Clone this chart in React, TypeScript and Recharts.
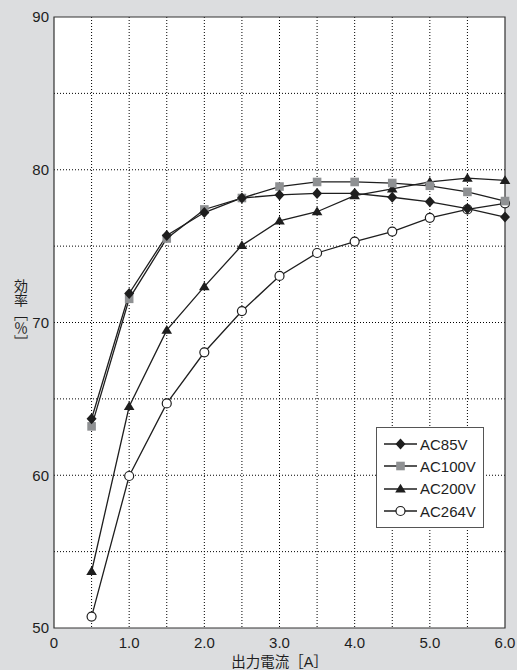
import React from 'react';
import {
    LineChart,
    Line,
    XAxis,
    YAxis,
    CartesianGrid,
    ReferenceArea,
    Legend
} from 'recharts';

const current = [0.5, 1.0, 1.5, 2.0, 2.5, 3.0, 3.5, 4.0, 4.5, 5.0, 5.5, 6.0];
const ac85 = [63.7, 71.9, 75.7, 77.2, 78.15, 78.35, 78.45, 78.45, 78.2, 77.9, 77.45, 76.9];
const ac100 = [63.2, 71.55, 75.5, 77.4, 78.15, 78.9, 79.2, 79.2, 79.13, 78.95, 78.55, 77.95];
const ac200 = [53.7, 64.5, 69.5, 72.35, 75.05, 76.65, 77.25, 78.3, 78.75, 79.2, 79.45, 79.3];
const ac264 = [50.75, 59.95, 64.7, 68.05, 70.75, 73.05, 74.55, 75.3, 75.95, 76.85, 77.4, 77.8];

const xTicks = [0, 1, 2, 3, 4, 5, 6];
const yTicks = [50, 60, 70, 80, 90];
const xGrid = [0.5, 1, 1.5, 2, 2.5, 3, 3.5, 4, 4.5, 5, 5.5];
const yGrid = [55, 60, 65, 70, 75, 80, 85];

const data = current.map((x, i) => ({
    x,
    ac85: ac85[i],
    ac100: ac100[i],
    ac200: ac200[i],
    ac264: ac264[i]
}));

const FONT = "'Liberation Sans', Arial, 'Noto Sans CJK JP', sans-serif";
const INK = '#1e1e1e';
const GRAY_MARK = '#8f9193';

// marker shapes, shared by the lines and the legend
const Marker = ({ shape, cx, cy }: { shape: string; cx: number; cy: number }) => {
    if (shape === 'diamond') {
        return <path d={`M${cx},${cy - 5.5}L${cx + 5},${cy}L${cx},${cy + 5.5}L${cx - 5},${cy}Z`} fill={INK} />;
    }
    if (shape === 'square') {
        return <rect x={cx - 4.3} y={cy - 4.3} width={8.6} height={8.6} fill={GRAY_MARK} />;
    }
    if (shape === 'triangle') {
        return <path d={`M${cx},${cy - 5.2}L${cx + 5.3},${cy + 3.6}L${cx - 5.3},${cy + 3.6}Z`} fill={INK} />;
    }
    return <circle cx={cx} cy={cy} r={4.5} fill="#fff" stroke={INK} strokeWidth={1.2} />;
};

const series = [
    { key: 'ac264', name: 'AC264V', shape: 'circle' },
    { key: 'ac200', name: 'AC200V', shape: 'triangle' },
    { key: 'ac100', name: 'AC100V', shape: 'square' },
    { key: 'ac85', name: 'AC85V', shape: 'diamond' }
];

const legendOrder = ['AC85V', 'AC100V', 'AC200V', 'AC264V'];

const LegendBox = () => (
    <div
        style={{
            background: '#fff',
            border: '1px solid #555',
            padding: '5px 7px 5px 7px',
            fontFamily: FONT,
            fontSize: 15,
            color: INK
        }}
    >
        {legendOrder.map((name) => {
            const s = series.find((d) => d.name === name)!;
            return (
                <div key={name} style={{ display: 'flex', alignItems: 'center', height: 22.3 }}>
                    <svg width={33} height={14} style={{ marginRight: 3 }}>
                        <line x1={0} y1={7} x2={33} y2={7} stroke={INK} strokeWidth={1.3} />
                        <Marker shape={s.shape} cx={16.5} cy={7} />
                    </svg>
                    <span>{name}</span>
                </div>
            );
        })}
    </div>
);

const YLabel = ({ viewBox }: any) => {
    const x = (viewBox?.x ?? 0) + 20;
    const y = (viewBox?.y ?? 0) + (viewBox?.height ?? 0) / 2 - 9;
    return (
        <text
            x={x}
            y={y}
            textAnchor="middle"
            fill={INK}
            fontSize={14}
            fontFamily={FONT}
            style={{ writingMode: 'vertical-rl' } as any}
        >
            効率［％］
        </text>
    );
};

const App = () => {
    return (
        <div style={{ position: 'absolute', top: 0, left: 0, width: 517, height: 670, background: '#dcdddf' }}>
            <LineChart
                width={517}
                height={670}
                data={data}
                margin={{ top: 17, right: 12, left: 0, bottom: 0 }}
                style={{ fontFamily: FONT }}
            >
                <CartesianGrid
                    fill="#fff"
                    fillOpacity={1}
                    stroke="#000"
                    strokeDasharray="1 2"
                    horizontalValues={yGrid}
                    verticalValues={xGrid}
                />
                <ReferenceArea x1={0} x2={6} y1={50} y2={90} fill="none" stroke="#333" strokeWidth={1.2} />
                <XAxis
                    dataKey="x"
                    type="number"
                    domain={[0, 6]}
                    ticks={xTicks}
                    tickFormatter={(v: number) => (v === 0 ? '0' : v.toFixed(1))}
                    height={42}
                    axisLine={false}
                    tickLine={false}
                    tickSize={0}
                    tickMargin={9}
                    interval={0}
                    tick={{ fill: INK, fontSize: 15 }}
                    label={{ value: '出力電流［A］', position: 'insideBottom', offset: 3, fill: INK, fontSize: 14.5 }}
                />
                <YAxis
                    type="number"
                    domain={[50, 90]}
                    ticks={yTicks}
                    width={54}
                    axisLine={false}
                    tickLine={false}
                    tickSize={0}
                    tickMargin={5}
                    interval={0}
                    tick={{ fill: INK, fontSize: 15 }}
                    label={<YLabel />}
                />
                {series.map((s) => (
                    <Line
                        key={s.key}
                        dataKey={s.key}
                        name={s.name}
                        stroke={INK}
                        strokeWidth={1.3}
                        isAnimationActive={false}
                        dot={(p: any) => <Marker key={`${s.key}-${p.index}`} shape={s.shape} cx={p.cx} cy={p.cy} />}
                        activeDot={false}
                    />
                ))}
                <Legend
                    layout="vertical"
                    align="center"
                    verticalAlign="middle"
                    content={<LegendBox />}
                    wrapperStyle={{ left: 376, top: 427, width: 'auto', height: 'auto' }}
                />
            </LineChart>
        </div>
    );
};

export default App;
